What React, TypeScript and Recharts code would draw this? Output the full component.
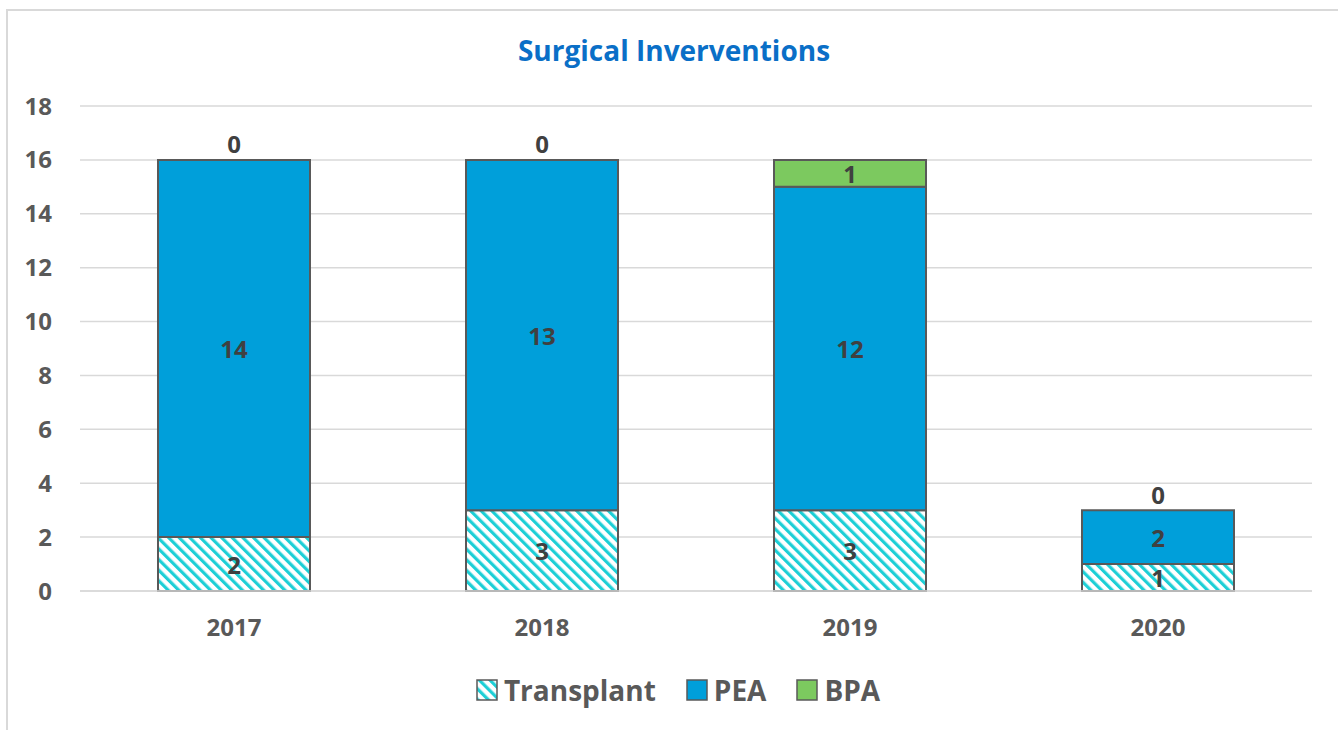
import { Bar, BarChart, CartesianGrid, LabelList, XAxis, YAxis } from "recharts";

const years = ["2017", "2018", "2019", "2020"];
const transplant = [2, 3, 3, 1];
const pea = [14, 13, 12, 2];
const bpa = [0, 0, 1, 0];
const yTicks = [0, 2, 4, 6, 8, 10, 12, 14, 16, 18];

const data = years.map((year, i) => ({
  year,
  transplant: transplant[i],
  pea: pea[i],
  bpa: bpa[i],
}));

const FONT = "'Open Sans', sans-serif";
const LABEL_COLOR = "#404040";
const PEA_COLOR = "#009FDA";
const BPA_COLOR = "#7CC95F";
const HATCH_COLOR = "#1DCFD6";
const EDGE = "#595959";

const labelText = (x: number, y: number, value: number, key?: string) => (
  <text
    key={key}
    x={x}
    y={y}
    textAnchor="middle"
    dominantBaseline="central"
    fill={LABEL_COLOR}
    fontFamily={FONT}
    fontWeight={700}
    fontSize={24}
  >
    {value}
  </text>
);

const centerLabel = (props: any) => {
  const { x, y, width, height, value } = props;
  if (!height) return null;
  return labelText(x + width / 2, y + height / 2, value);
};

// the PEA bar also carries the BPA "0" labels, since zero-height bars get no label
const peaLabel = (props: any) => {
  const { x, y, width, height, value, index } = props;
  return (
    <g>
      {labelText(x + width / 2, y + height / 2, value, "v")}
      {bpa[index] === 0 ? labelText(x + width / 2, y - 16, 0, "z") : null}
    </g>
  );
};

const legendItems = [
  { name: "Transplant", fill: "url(#hatch)" },
  { name: "PEA", fill: PEA_COLOR },
  { name: "BPA", fill: BPA_COLOR },
];

export default function App() {
  return (
    <div style={{ position: "absolute", left: 0, top: 0, width: 1338, height: 730, background: "#fff", overflow: "hidden" }}>
      <svg width={0} height={0} style={{ position: "absolute" }}>
        <defs>
          <pattern id="hatch" patternUnits="userSpaceOnUse" width={7.5} height={7.5} patternTransform="rotate(-45)">
            <rect x={0} y={0} width={7.5} height={7.5} fill="#ffffff" />
            <rect x={0} y={0} width={3.2} height={7.5} fill={HATCH_COLOR} />
          </pattern>
        </defs>
      </svg>
      <div
        style={{
          position: "absolute",
          left: 6,
          top: 9,
          width: 1340,
          height: 730,
          borderLeft: "2px solid #d9d9d9",
          borderTop: "2px solid #d9d9d9",
        }}
      />
      <div
        style={{
          position: "absolute",
          left: 0,
          top: 31,
          width: 1348,
          textAlign: "center",
          fontFamily: FONT,
          fontWeight: 700,
          fontSize: 28,
          color: "#0A6FC7",
        }}
      >
        Surgical Inverventions
      </div>
      <BarChart
        width={1338}
        height={730}
        data={data}
        margin={{ top: 106, right: 26, left: 0, bottom: 79 }}
        style={{ position: "absolute", left: 0, top: 0 }}
      >
        <CartesianGrid vertical={false} stroke="#d9d9d9" strokeWidth={1.5} />
        <XAxis
          dataKey="year"
          height={60}
          tickSize={0}
          tickMargin={28}
          axisLine={{ stroke: "#d9d9d9", strokeWidth: 1.5 }}
          tickLine={false}
          tick={{ fill: EDGE, fontFamily: FONT, fontWeight: 700, fontSize: 24 }}
        />
        <YAxis
          width={80}
          domain={[0, 18]}
          ticks={yTicks}
          interval={0}
          tickSize={0}
          tickMargin={28}
          axisLine={false}
          tickLine={false}
          tick={{ fill: EDGE, fontFamily: FONT, fontWeight: 700, fontSize: 24 }}
        />
        <Bar dataKey="transplant" name="Transplant" stackId="a" barSize={152} fill="url(#hatch)" stroke={EDGE} strokeWidth={2} isAnimationActive={false}>
          <LabelList dataKey="transplant" content={centerLabel} />
        </Bar>
        <Bar dataKey="pea" name="PEA" stackId="a" barSize={152} fill={PEA_COLOR} stroke={EDGE} strokeWidth={2} isAnimationActive={false}>
          <LabelList dataKey="pea" content={peaLabel} />
        </Bar>
        <Bar dataKey="bpa" name="BPA" stackId="a" barSize={152} fill={BPA_COLOR} stroke={EDGE} strokeWidth={2} isAnimationActive={false}>
          <LabelList dataKey="bpa" content={centerLabel} />
        </Bar>
      </BarChart>
      <div
        style={{
          position: "absolute",
          left: 0,
          top: 671,
          width: 1356,
          display: "flex",
          justifyContent: "center",
          alignItems: "center",
          gap: 30,
          fontFamily: FONT,
          fontWeight: 700,
          fontSize: 28,
          color: EDGE,
        }}
      >
        {legendItems.map((item) => (
          <div key={item.name} style={{ display: "flex", alignItems: "center", gap: 6 }}>
            <svg width={22} height={22}>
              <rect x={1} y={1} width={20} height={20} fill={item.fill} stroke={EDGE} strokeWidth={1.5} />
            </svg>
            <span>{item.name}</span>
          </div>
        ))}
      </div>
    </div>
  );
}
